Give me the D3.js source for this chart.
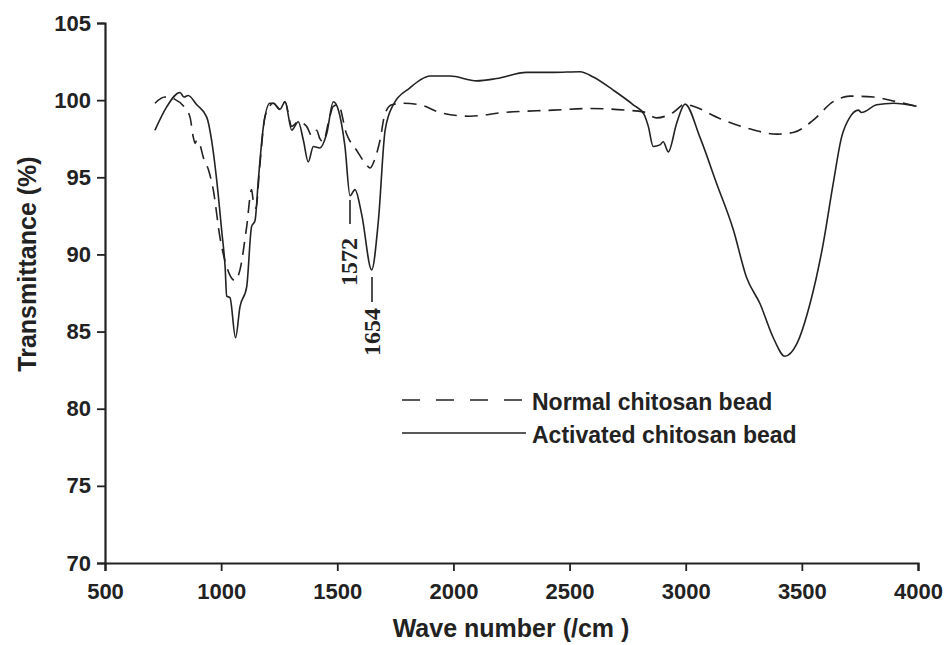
<!DOCTYPE html>
<html>
<head>
<meta charset="utf-8">
<style>
  body { margin: 0; background: #fff; }
  text { font-family: Arial, "Liberation Sans", sans-serif; font-weight: bold; fill: #222; }
</style>
</head>
<body>
<div class="chartContainer"></div>

<script src="https://d3js.org/d3.v7.min.js"></script>
<script>
    // wave number (/cm) and transmittance (%)
    const normalWave = [715, 758, 801, 844, 866, 880, 888, 895, 909, 923, 945, 966, 995, 1024, 1060, 1081, 1110, 1131, 1138, 1150, 1165, 1190,
      1225, 1253, 1275, 1304, 1332, 1368, 1390, 1411, 1425, 1440, 1461, 1483, 1504, 1540, 1583, 1626, 1641, 1662, 1684, 1705, 1734,
      1784, 1856, 1942, 2071, 2215, 2430, 2588, 2746, 2817, 2875, 2946, 2997, 3033, 3148, 3262, 3392, 3463, 3549, 3635, 3707, 3808, 3908, 3994]
    const normalT = [99.8, 100.2, 100.05, 99.5, 98.9, 97.6, 97.2, 97.4, 97.1, 96.3, 95.5, 94.2, 91.1, 89.2, 88.3, 89.0, 91.8, 94.2, 93.5, 93.0, 95.5, 99.0,
      99.8, 99.4, 99.9, 98.3, 98.6, 98.3, 97.7, 98.05, 97.5, 97.3, 98.5, 99.6, 99.7, 97.8, 96.75, 95.8, 95.6, 96.2, 97.4, 99.1, 99.7,
      99.8, 99.7, 99.2, 98.96, 99.2, 99.35, 99.46, 99.35, 99.24, 98.85, 99.2, 99.74, 99.6, 98.8, 98.2, 97.8, 97.9, 98.7, 99.9, 100.26, 100.2, 99.9, 99.6]

    const activatedWave = [715, 765, 823, 840, 858, 895, 938, 959, 981, 1002, 1017, 1024, 1038, 1062, 1081, 1110, 1131, 1146, 1160, 1182, 1210,
      1225, 1253, 1275, 1304, 1332, 1354, 1375, 1397, 1425, 1454, 1483, 1504, 1533, 1555, 1576, 1605, 1648, 1677, 1706, 1741,
      1813, 1856, 1899, 1985, 2100, 2186, 2315, 2430, 2545, 2602, 2688, 2774, 2820, 2839, 2860, 2889, 2903, 2925, 2961, 2997,
      3061, 3133, 3205, 3262, 3320, 3377, 3427, 3478, 3535, 3592, 3635, 3671, 3707, 3743, 3757, 3822, 3894, 3994]
    const activatedT = [98.05, 99.55, 100.5, 100.2, 100.3, 99.7, 98.9, 97.4, 94.8, 91.6, 89.2, 87.3, 87.2, 84.6, 86.6, 87.9, 91.8, 92.2, 94.8, 98.3, 99.8,
      99.8, 99.4, 99.9, 98.05, 98.6, 97.4, 96.0, 97.0, 96.9, 97.8, 99.9, 99.4, 97.0, 93.8, 94.2, 92.6, 89.0, 92.2, 98.05, 99.7,
      100.8, 101.3, 101.56, 101.56, 101.25, 101.4, 101.8, 101.8, 101.84, 101.5, 100.65, 99.7, 99.1, 98.3, 97.0, 97.1, 97.3, 96.65, 98.5, 99.74,
      97.6, 94.6, 91.6, 88.5, 86.8, 84.6, 83.4, 84.2, 86.8, 90.7, 94.6, 97.6, 98.9, 99.35, 99.2, 99.7, 99.8, 99.6]

    const xTicks = [500, 1000, 1500, 2000, 2500, 3000, 3500, 4000]
    const yTicks = [70, 75, 80, 85, 90, 95, 100, 105]
    const seriesNames = ['Normal chitosan bead', 'Activated chitosan bead']
    const peakLabels = [1572, 1654]

    const svg = d3.select('.chartContainer')
                  .append('svg')
                  .attr('width', 948)
                  .attr('height', 645)

    // scale
    const xScale = d3.scaleLinear()
                     .domain([500, 4000])
                     .range([105, 918])

    const yScale = d3.scaleLinear()
                     .domain([70, 105])
                     .range([563, 23])

    svg.append('g')
       .attr('transform', 'translate(0,563)')
       .call(d3.axisBottom(xScale).tickValues(xTicks).tickSize(8).tickPadding(12).tickFormat(d3.format('d')))
    svg.append('g')
       .attr('transform', 'translate(105,0)')
       .call(d3.axisLeft(yScale).tickValues(yTicks).tickSize(8).tickPadding(6).tickFormat(d3.format('d')))

    svg.selectAll('.domain').attr('stroke', '#222').attr('stroke-width', 2.2)
    svg.selectAll('.tick line').attr('stroke', '#222').attr('stroke-width', 1.8)
    svg.selectAll('.tick text')
       .style('font-size', '22px')
       .style('font-family', 'Arial, "Liberation Sans", sans-serif')
       .style('font-weight', 'bold')
       .attr('fill', '#222')

    // axis titles
    svg.append('text')
       .attr('x', 511)
       .attr('y', 637)
       .attr('text-anchor', 'middle')
       .style('font-size', '25px')
       .text('Wave number (/cm )')

    svg.append('text')
       .attr('transform', 'translate(36,264) rotate(-90)')
       .attr('text-anchor', 'middle')
       .style('font-size', '25px')
       .text('Transmittance (%)')

    const lineGen = d3.line()
                      .x(d => xScale(d[0]))
                      .y(d => yScale(d[1]))
                      .curve(d3.curveMonotoneX)

    const normalData = d3.zip(normalWave, normalT)
    const activatedData = d3.zip(activatedWave, activatedT)

    svg.append('path')
       .datum(normalData)
       .attr('d', lineGen)
       .attr('fill', 'none')
       .attr('stroke', '#222')
       .attr('stroke-width', 1.6)
       .attr('stroke-dasharray', '13,8')

    svg.append('path')
       .datum(activatedData)
       .attr('d', lineGen)
       .attr('fill', 'none')
       .attr('stroke', '#222')
       .attr('stroke-width', 1.6)

    // legend
    const legend = svg.append('g')
    legend.selectAll('line')
          .data(seriesNames)
          .join('line')
          .attr('x1', 402)
          .attr('x2', 526)
          .attr('y1', (d, i) => 400 + i * 33)
          .attr('y2', (d, i) => 400 + i * 33)
          .attr('stroke', '#222')
          .attr('stroke-width', 1.6)
          .attr('stroke-dasharray', (d, i) => i === 0 ? '18,16' : null)
    legend.selectAll('text')
          .data(seriesNames)
          .join('text')
          .attr('x', 532)
          .attr('y', (d, i) => 410 + i * 33)
          .style('font-size', '23px')
          .text(d => d)

    // peak annotations (rotated serif numbers with leader ticks)
    const annot = svg.append('g')
    const labelY = [262, 332]
    const lineTop = [200, 277]
    const lineBot = [224, 302]
    annot.selectAll('line')
         .data(peakLabels)
         .join('line')
         .attr('x1', (d, i) => i === 0 ? 350 : 372)
         .attr('x2', (d, i) => i === 0 ? 350 : 372)
         .attr('y1', (d, i) => lineTop[i])
         .attr('y2', (d, i) => lineBot[i])
         .attr('stroke', '#222')
         .attr('stroke-width', 1.6)
    annot.selectAll('text')
         .data(peakLabels)
         .join('text')
         .attr('transform', (d, i) => `translate(${i === 0 ? 357 : 380},${labelY[i]}) rotate(-90)`)
         .attr('text-anchor', 'middle')
         .style('font-family', '"Liberation Serif", "Times New Roman", serif')
         .style('font-size', '24px')
         .text(d => d)
</script>
</body>
</html>
